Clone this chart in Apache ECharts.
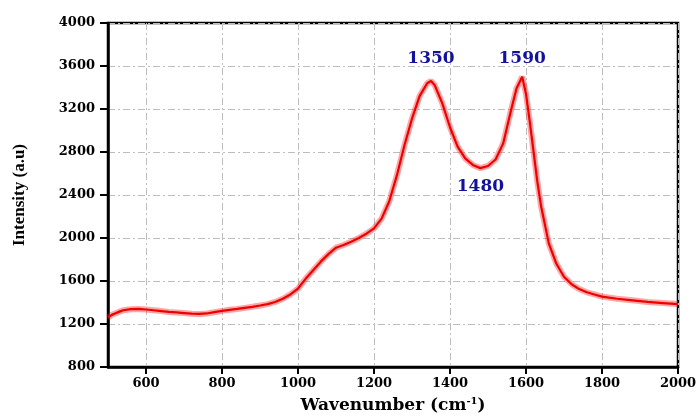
<!DOCTYPE html>
<html>
<head>
<meta charset="utf-8">
<script src="https://cdn.jsdelivr.net/npm/echarts@6/dist/echarts.min.js"></script>
<style>
  html, body { margin: 0; padding: 0; background: #fff; }
  #chart { width: 697px; height: 418px; }
</style>
</head>
<body>
<div id="chart"></div>
<script>
// Raman spectrum: wavenumber (cm^-1) and measured intensity (a.u)
const wavenumbers = [
  500, 510, 520, 530, 540, 560, 580, 600, 620, 640, 660, 680, 700, 720, 740, 760, 780,
  800, 820, 840, 860, 880, 900, 920, 940, 960, 980, 1000, 1020, 1040, 1060, 1080, 1100,
  1120, 1140, 1160, 1180, 1200, 1220, 1240, 1260, 1280, 1300, 1320, 1340, 1350, 1360,
  1380, 1400, 1420, 1440, 1460, 1480, 1500, 1520, 1540, 1560, 1575, 1590, 1600, 1610,
  1620, 1630, 1640, 1660, 1680, 1700, 1720, 1740, 1760, 1780, 1800, 1840, 1880, 1920,
  1960, 2000
];
const intensity = [
  1260, 1285, 1300, 1315, 1328, 1338, 1340, 1335, 1328, 1320, 1312, 1308, 1302, 1296, 1294, 1298, 1310,
  1322, 1332, 1340, 1350, 1360, 1372, 1385, 1405, 1435, 1475, 1530, 1620, 1700, 1780, 1850, 1910,
  1935, 1965, 2000, 2040, 2090, 2180, 2340, 2580, 2860, 3110, 3320, 3440, 3460, 3420,
  3250, 3030, 2850, 2740, 2680, 2650, 2670, 2730, 2880, 3180, 3390, 3500, 3340, 3080,
  2800, 2520, 2290, 1950, 1760, 1640, 1570, 1525, 1495, 1475, 1455, 1435, 1420, 1405,
  1395, 1385
];

// Band positions marked on the spectrum
const bandPositions = [1350, 1590, 1480];
const bandLabels = ['1350', '1590', '1480'];
const bandIsPeak = [true, true, false];

// Axis ticks
const xTicks = [600, 800, 1000, 1200, 1400, 1600, 1800, 2000];

const spectrum = wavenumbers.map((w, i) => [w, intensity[i]]);
const bandPoints = bandPositions.map((w, i) => ({
  value: [w, intensity[wavenumbers.indexOf(w)]],
  label: {
    formatter: bandLabels[i],
    position: bandIsPeak[i] ? 'top' : 'bottom',
    distance: bandIsPeak[i] ? (i === 0 ? 14 : 10) : 10
  }
}));

const serif = 'Liberation Serif';
const wideSerif = 'DejaVu Serif';
const gridLine = { color: '#bdbdbd', width: 1, type: [7, 3, 2, 3] };

const chart = echarts.init(document.getElementById('chart'));
chart.setOption({
  animation: false,
  backgroundColor: '#fff',
  grid: {
    left: 108, right: 19, top: 23, bottom: 51,
    outerBoundsMode: 'none', containLabel: false,
    show: true, borderColor: '#000', borderWidth: 2.5, backgroundColor: 'transparent'
  },
  xAxis: {
    type: 'value', min: 500, max: 2000,
    name: 'Wavenumber (cm{sup|-1})',
    nameLocation: 'middle', nameGap: 29,
    nameTextStyle: {
      fontFamily: wideSerif, fontWeight: 'bold', fontSize: 17, color: '#000',
      rich: { sup: { fontFamily: wideSerif, fontWeight: 'bold', fontSize: 10, padding: [0, 0, 9, 0], color: '#000' } }
    },
    axisLine: { show: true, lineStyle: { color: '#000', width: 2.5 } },
    axisTick: { show: true, inside: false, length: 7, lineStyle: { color: '#000', width: 2 }, customValues: xTicks },
    axisLabel: {
      customValues: xTicks, margin: 10, formatter: v => String(v),
      fontFamily: wideSerif, fontWeight: 'bold', fontSize: 13, color: '#000'
    },
    splitLine: { show: true, lineStyle: gridLine }
  },
  yAxis: {
    type: 'value', min: 800, max: 4000, interval: 400,
    name: 'Intensity (a.u)',
    nameLocation: 'middle', nameGap: 80, nameRotate: 90,
    nameTextStyle: { fontFamily: serif, fontWeight: 'bold', fontSize: 17, color: '#000' },
    axisLine: { show: true, lineStyle: { color: '#000', width: 2.5 } },
    axisTick: { show: true, inside: false, length: 8, lineStyle: { color: '#000', width: 2 } },
    axisLabel: {
      margin: 13, formatter: v => String(v),
      fontFamily: wideSerif, fontWeight: 'bold', fontSize: 13, color: '#000'
    },
    splitLine: { show: true, lineStyle: gridLine }
  },
  series: [
    {
      // soft band behind the trace for the detector noise width
      type: 'line', data: spectrum, showSymbol: false, silent: true,
      lineStyle: { color: '#ff2020', width: 6, opacity: 0.4 }, z: 2
    },
    {
      type: 'line', data: spectrum, showSymbol: false,
      lineStyle: { color: '#ee0000', width: 2.2 }, z: 3
    },
    {
      type: 'scatter', data: bandPoints, symbolSize: 0, z: 4,
      itemStyle: { opacity: 1 },
      label: {
        show: true, opacity: 1, fontFamily: wideSerif, fontWeight: 'bold', fontSize: 17, color: '#12129c'
      }
    }
  ]
});
</script>
</body>
</html>
